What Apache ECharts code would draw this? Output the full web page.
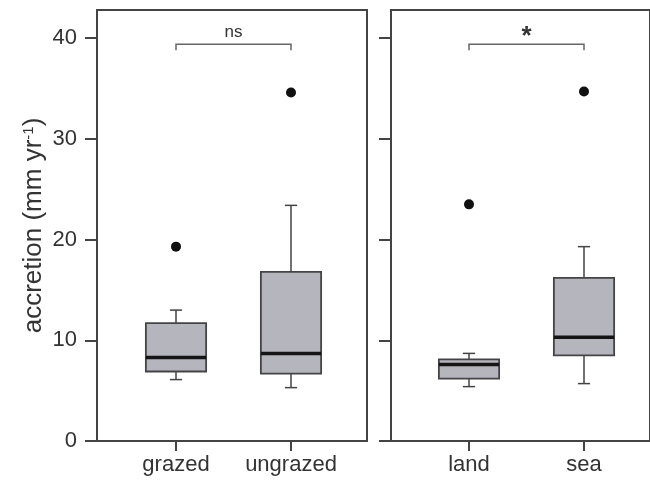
<!DOCTYPE html>
<html>
<head>
<meta charset="utf-8">
<script src="https://cdn.jsdelivr.net/npm/echarts@6/dist/echarts.min.js"></script>
<style>
  html, body { margin: 0; padding: 0; background: #fff; }
  #chart { width: 650px; height: 486px; }
</style>
</head>
<body>
<div id="chart"></div>
<script>
// categories per panel
const catsLeft = ['grazed', 'ungrazed'];
const catsRight = ['land', 'sea'];

// box stats: [min, Q1, median, Q3, max]
const boxLeft = [
    [6.1, 6.9, 8.3, 11.7, 13.0],
    [5.3, 6.7, 8.7, 16.8, 23.4]
];
const boxRight = [
    [5.4, 6.2, 7.6, 8.1, 8.7],
    [5.7, 8.5, 10.3, 16.2, 19.3]
];

// outliers: [category index, value]
const outLeft = [[0, 19.3], [1, 34.6]];
const outRight = [[0, 23.5], [1, 34.7]];

// significance brackets: [from index, to index, y, label]
const bracketLeft = [[0, 1, 39.4, 'ns']];
const bracketRight = [[0, 1, 39.4, '*']];
const bracketAll = [bracketLeft, bracketRight];

const yTicks = [0, 10, 20, 30, 40];
const Y_MAX = 42.8;

const FONT = 'Liberation Sans, Arial, sans-serif';
const LINE = '#444';
const TEXT = '#333';

const chart = echarts.init(document.getElementById('chart'));

function toData(stats) {
    return stats.map((s, i) => [i].concat(s));
}

function renderBox(params, api) {
    const idx = api.value(0);
    const band = api.size([1, 0])[0];
    const half = band * 0.262;
    const cap = band * 0.053;
    const pMin = api.coord([idx, api.value(1)]);
    const pQ1 = api.coord([idx, api.value(2)]);
    const pMed = api.coord([idx, api.value(3)]);
    const pQ3 = api.coord([idx, api.value(4)]);
    const pMax = api.coord([idx, api.value(5)]);
    const x = pMed[0];
    const lineStyle = { stroke: LINE, lineWidth: 1.5 };
    return {
        type: 'group',
        children: [
            { type: 'line', shape: { x1: x, y1: pQ3[1], x2: x, y2: pMax[1] }, style: lineStyle },
            { type: 'line', shape: { x1: x, y1: pQ1[1], x2: x, y2: pMin[1] }, style: lineStyle },
            { type: 'line', shape: { x1: x - cap, y1: pMax[1], x2: x + cap, y2: pMax[1] }, style: lineStyle },
            { type: 'line', shape: { x1: x - cap, y1: pMin[1], x2: x + cap, y2: pMin[1] }, style: lineStyle },
            {
                type: 'rect',
                shape: { x: x - half, y: pQ3[1], width: half * 2, height: pQ1[1] - pQ3[1] },
                style: { fill: '#b4b5bd', stroke: LINE, lineWidth: 1.8 }
            },
            {
                type: 'line',
                shape: { x1: x - half, y1: pMed[1], x2: x + half, y2: pMed[1] },
                style: { stroke: '#151515', lineWidth: 3.5 }
            }
        ]
    };
}

function renderBracket(params, api) {
    const a = api.coord([api.value(0), api.value(2)]);
    const b = api.coord([api.value(1), api.value(2)]);
    const label = bracketAll[params.seriesIndex === 4 ? 0 : 1][params.dataIndex][3];
    const star = label === '*';
    return {
        type: 'group',
        children: [
            {
                type: 'polyline',
                shape: { points: [[a[0], a[1] + 6], [a[0], a[1]], [b[0], b[1]], [b[0], b[1] + 6]] },
                style: { stroke: '#666', lineWidth: 1.5, fill: null }
            },
            {
                type: 'text',
                x: (a[0] + b[0]) / 2,
                y: star ? a[1] + 6 : a[1] - 3,
                style: {
                    text: label,
                    fill: TEXT,
                    font: star ? 'bold 26px ' + FONT : '17px ' + FONT,
                    align: 'center',
                    verticalAlign: 'bottom'
                }
            }
        ]
    };
}

function frameY(showLabels, gridIndex) {
    return {
        gridIndex: gridIndex,
        type: 'value',
        min: 0,
        max: Y_MAX,
        axisLine: { show: true, lineStyle: { color: LINE, width: 2 } },
        axisTick: { show: true, inside: false, length: 12, customValues: yTicks, lineStyle: { color: LINE, width: 2 } },
        axisLabel: {
            show: showLabels,
            customValues: yTicks,
            margin: 20,
            fontSize: 22,
            fontFamily: FONT,
            color: TEXT
        },
        splitLine: { show: false },
        name: showLabels ? 'accretion (mm yr{sup|-1})' : '',
        nameLocation: 'middle',
        nameRotate: 90,
        nameGap: 50,
        nameTextStyle: {
            fontSize: 26,
            fontFamily: FONT,
            color: TEXT,
            rich: { sup: { fontSize: 15, fontFamily: FONT, color: TEXT, verticalAlign: 'top' } }
        }
    };
}

function frameX(gridIndex) {
    return {
        gridIndex: gridIndex,
        type: 'value',
        min: 0,
        max: 1,
        axisLine: { show: true, lineStyle: { color: LINE, width: 2 } },
        axisTick: { show: false },
        axisLabel: { show: false },
        splitLine: { show: false }
    };
}

function dataX(cats, gridIndex) {
    return {
        gridIndex: gridIndex,
        type: 'category',
        data: cats,
        boundaryGap: true,
        axisLine: { show: false },
        axisTick: { show: true, alignWithLabel: true, interval: 0, length: 10, lineStyle: { color: LINE, width: 2 } },
        axisLabel: { interval: 0, hideOverlap: false, margin: 13, fontSize: 22, fontFamily: FONT, color: TEXT }
    };
}

function dataY(gridIndex) {
    return { gridIndex: gridIndex, type: 'value', min: 0, max: Y_MAX, show: false, splitLine: { show: false } };
}

const option = {
    animation: false,
    backgroundColor: '#fff',
    grid: [
        // panel frames
        { left: 97, right: 283, top: 10, bottom: 45, show: true, borderColor: LINE, borderWidth: 2 },
        { left: 391, right: -10, top: 10, bottom: 45, show: true, borderColor: LINE, borderWidth: 2 },
        // data areas (category centres placed inside the frames)
        { left: 118.5, right: 301.5, top: 10, bottom: 45 },
        { left: 411.5, right: 8.5, top: 10, bottom: 45 }
    ],
    xAxis: [frameX(0), frameX(1), dataX(catsLeft, 2), dataX(catsRight, 3)],
    yAxis: [frameY(true, 0), frameY(false, 1), dataY(2), dataY(3)],
    series: [
        {
            type: 'custom', xAxisIndex: 2, yAxisIndex: 2,
            renderItem: renderBox, data: toData(boxLeft),
            encode: { x: 0, y: [1, 2, 3, 4, 5] }
        },
        {
            type: 'custom', xAxisIndex: 3, yAxisIndex: 3,
            renderItem: renderBox, data: toData(boxRight),
            encode: { x: 0, y: [1, 2, 3, 4, 5] }
        },
        {
            type: 'scatter', xAxisIndex: 2, yAxisIndex: 2,
            data: outLeft, symbolSize: 10, itemStyle: { color: '#111', opacity: 1 }
        },
        {
            type: 'scatter', xAxisIndex: 3, yAxisIndex: 3,
            data: outRight, symbolSize: 10, itemStyle: { color: '#111', opacity: 1 }
        },
        {
            type: 'custom', xAxisIndex: 2, yAxisIndex: 2,
            renderItem: renderBracket,
            data: bracketLeft.map(b => [b[0], b[1], b[2]]),
            encode: { x: [0, 1], y: 2 }
        },
        {
            type: 'custom', xAxisIndex: 3, yAxisIndex: 3,
            renderItem: renderBracket,
            data: bracketRight.map(b => [b[0], b[1], b[2]]),
            encode: { x: [0, 1], y: 2 }
        }
    ]
};

chart.setOption(option);

window.addEventListener('resize', () => {
    chart.resize();
});
</script>
</body>
</html>
